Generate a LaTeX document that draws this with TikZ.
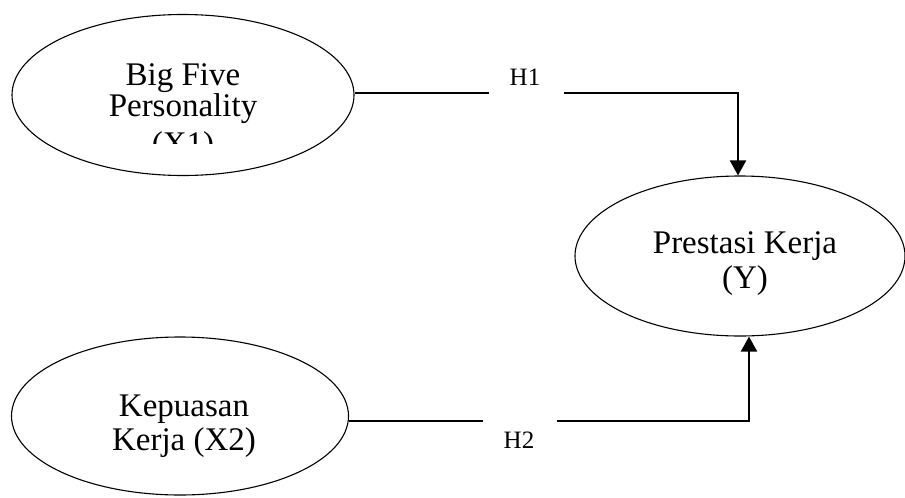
\documentclass[tikz,border=0pt]{standalone}
\usepackage{fontspec}
\setmainfont{Liberation Serif}
\usetikzlibrary{arrows.meta,shapes.geometric}

\tikzset{
  construct/.style={draw=black, line width=1.1pt, ellipse, inner sep=0pt},
  word/.style={anchor=base, inner sep=0pt, font=\fontsize{33}{34}\selectfont},
  hyp/.style={anchor=base, inner sep=0pt, font=\fontsize{25}{27}\selectfont},
  path/.style={draw=black, line width=2pt},
  pathtip/.style={path, -{Triangle[width=16pt,length=15pt]}}
}

\begin{document}
\begin{tikzpicture}[x=1pt, y=-1pt]
  \useasboundingbox (0,0) rectangle (905,498);

  % latent constructs
  \node[construct, minimum width=342pt, minimum height=161pt] (x1) at (183,95) {};
  \node[construct, minimum width=337pt, minimum height=158pt] (x2) at (180,416) {};
  \node[construct, minimum width=330pt, minimum height=160pt] (y)  at (740,256) {};

  % construct labels
  \node[word] (x1a) at (183,85)    {Big Five};
  \node[word] (x1b) at (183,116.7) {Personality};
  \begin{scope}
    \clip (0,0) rectangle (905,143);
    \node[word] (x1c) at (183,154) {(X1)};
  \end{scope}
  \node[word] (x2a) at (184,416.7) {Kepuasan};
  \node[word] (x2b) at (184,450)   {Kerja (X2)};
  \node[word] (ya)  at (745,253.3) {Prestasi Kerja};
  \node[word] (yb)  at (745,288)   {(Y)};

  % hypothesis labels
  \node[hyp] (h1) at (525,85)  {H1};
  \node[hyp] (h2) at (519,448) {H2};

  % route points of the hypothesised paths
  \coordinate (g1a) at (489,93);
  \coordinate (g1b) at (564,93);
  \coordinate (c1)  at (738,93);
  \coordinate (g2a) at (483,421);
  \coordinate (g2b) at (557,421);
  \coordinate (c2)  at (749,421);

  % H1: X1 -> Y
  \draw[path] (x1.east |- g1a) -- (g1a);
  \draw[pathtip] (g1b) -- (c1) -- (c1 |- y.north);

  % H2: X2 -> Y
  \draw[path] (x2.east |- g2a) -- (g2a);
  \draw[pathtip] (g2b) -- (c2) -- (c2 |- y.south);
\end{tikzpicture}
\end{document}
